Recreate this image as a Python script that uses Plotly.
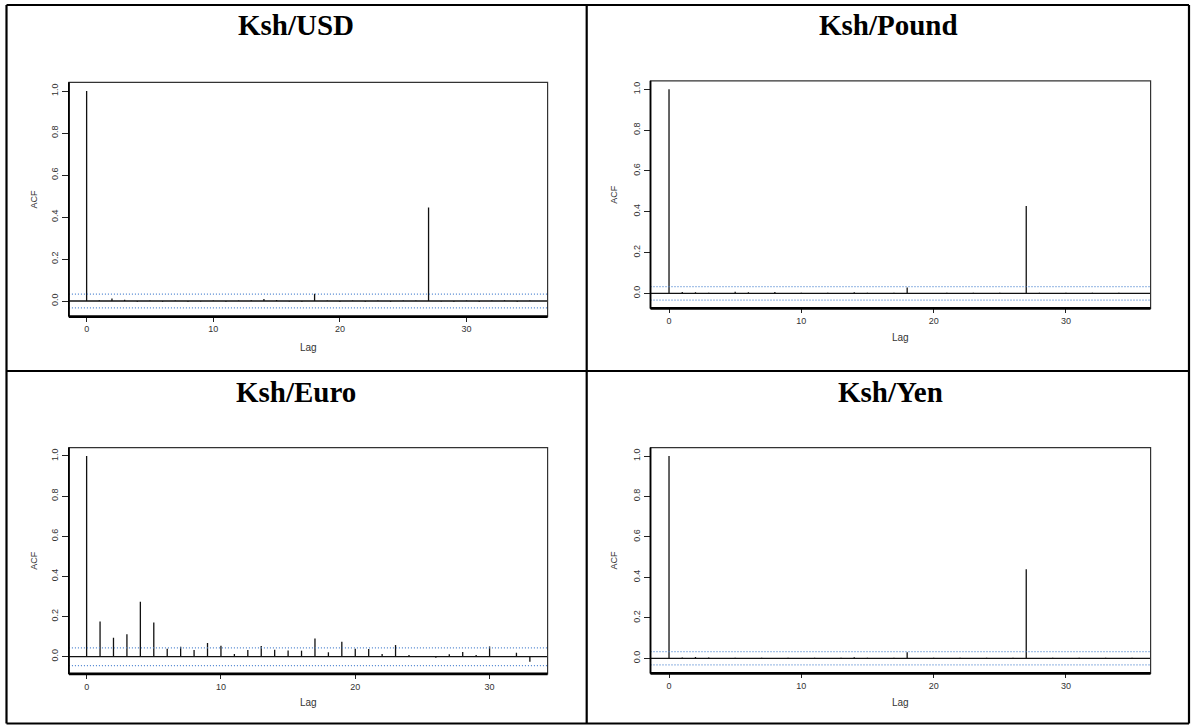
import plotly.graph_objects as go

W, H = 1191, 726

# ---------------- data ----------------
titles = ["Ksh/USD", "Ksh/Pound", "Ksh/Euro", "Ksh/Yen"]

lags_usd = list(range(36))
acf_usd = [1.0, 0.004, 0.012, 0.006, -0.003, 0.002, -0.003, 0.002, -0.003, -0.002,
           0.002, -0.003, 0.002, 0.004, 0.010, 0.005, -0.002, -0.003, 0.035, 0.002,
           -0.003, 0.002, -0.003, 0.002, -0.003, 0.002, 0.002, 0.445, -0.002, -0.003,
           0.002, -0.003, 0.002, 0.004, -0.003, 0.002]

lags_pound = list(range(36))
acf_pound = [1.0, 0.006, 0.005, 0.003, -0.003, 0.007, 0.005, -0.003, 0.006, -0.003,
             0.003, -0.003, 0.003, -0.003, 0.005, 0.003, -0.003, 0.003, 0.029, -0.003,
             -0.004, 0.003, -0.003, 0.003, -0.003, 0.003, -0.003, 0.428, 0.003, -0.003,
             0.003, -0.003, 0.003, -0.003, 0.003, -0.003]

lags_euro = list(range(34))
acf_euro = [1.0, 0.176, 0.094, 0.112, 0.274, 0.170, 0.040, 0.049, 0.034, 0.068,
            0.055, 0.013, 0.034, 0.053, 0.035, 0.031, 0.030, 0.091, 0.022, 0.075,
            0.040, 0.038, 0.013, 0.058, 0.008, 0.003, -0.005, 0.012, 0.023, 0.009,
            0.051, 0.003, 0.020, -0.025]

lags_yen = list(range(36))
acf_yen = [1.0, 0.004, 0.007, 0.004, -0.003, 0.003, -0.003, 0.003, -0.003, 0.003,
           -0.003, 0.003, -0.003, 0.003, 0.005, 0.003, -0.003, 0.003, 0.030, -0.003,
           0.003, -0.003, 0.003, -0.003, 0.003, -0.003, 0.003, 0.440, -0.003, 0.003,
           -0.003, 0.003, -0.003, 0.003, -0.003, 0.003]

ci_bounds = [0.033, 0.033, 0.044, 0.033]
x_ticks = [0, 10, 20, 30]
y_ticks = [0.0, 0.2, 0.4, 0.6, 0.8, 1.0]
y_tick_text = ["0.0", "0.2", "0.4", "0.6", "0.8", "1.0"]

series = [(lags_usd, acf_usd), (lags_pound, acf_pound),
          (lags_euro, acf_euro), (lags_yen, acf_yen)]

# ---------------- layout (pixel geometry) ----------------
panels = [
    dict(l=68.9, r=547.6, y0=301.0, y1=91.0, title_x=296, title_y=25, lag_y=347, acf_x=34),
    dict(l=650.5, r=1150.6, y0=293.3, y1=89.3, title_x=888, title_y=25, lag_y=337, acf_x=614),
    dict(l=68.9, r=547.6, y0=656.7, y1=456.0, title_x=296, title_y=392, lag_y=702, acf_x=34),
    dict(l=650.5, r=1150.6, y0=658.3, y1=456.0, title_x=890, title_y=392, lag_y=702, acf_x=614),
]


def px(x):
    return x / W


def py(y):
    return 1 - y / H


fig = go.Figure()
shapes = []
annotations = []
layout_axes = {}

for i, ((lags, vals), p, ci, title) in enumerate(zip(series, panels, ci_bounds, titles)):
    k = "" if i == 0 else str(i + 1)
    xa, ya = "x" + k, "y" + k
    nmax = max(lags)
    xr = [-0.04 * nmax, nmax * 1.04]
    lo = min(min(vals), -ci)
    hi = max(max(vals), ci)
    span = hi - lo
    yr = [lo - 0.04 * span, hi + 0.04 * span]
    unit = p["y0"] - p["y1"]
    top_px = p["y1"] - (yr[1] - 1.0) * unit
    bot_px = p["y0"] - yr[0] * unit

    layout_axes["xaxis" + k] = dict(
        domain=[px(p["l"]), px(p["r"])], range=xr, anchor=ya,
        showgrid=False, zeroline=False, showline=False,
        tickmode="array", tickvals=x_ticks, ticks="outside", ticklen=4,
        tickwidth=1, tickcolor="#222",
        tickfont=dict(family="Liberation Sans", size=9, color="#333"),
    )
    layout_axes["yaxis" + k] = dict(
        domain=[py(bot_px), py(top_px)], range=yr, anchor=xa,
        showgrid=False, zeroline=False, showline=False,
        tickmode="array", tickvals=y_ticks, ticktext=y_tick_text,
        ticks="outside", ticklen=6, tickwidth=1, tickcolor="#222", tickangle=-90,
        tickfont=dict(family="Liberation Sans", size=9, color="#333"),
    )

    # ACF spikes
    xs, ys = [], []
    for lag, v in zip(lags, vals):
        xs += [lag, lag, None]
        ys += [0, v, None]
    fig.add_trace(go.Scatter(x=xs, y=ys, mode="lines", xaxis=xa, yaxis=ya,
                             line=dict(color="#111", width=1.3),
                             showlegend=False, hoverinfo="skip"))
    # zero line
    fig.add_trace(go.Scatter(x=xr, y=[0, 0], mode="lines", xaxis=xa, yaxis=ya,
                             line=dict(color="#111", width=1.3),
                             showlegend=False, hoverinfo="skip"))
    # confidence bounds
    for c in (ci, -ci):
        fig.add_trace(go.Scatter(x=xr, y=[c, c], mode="lines", xaxis=xa, yaxis=ya,
                                 line=dict(color="#4d84d0", width=1.3, dash="1px,2px"),
                                 showlegend=False, hoverinfo="skip"))

    # frame
    shapes.append(dict(type="rect", xref="paper", yref="paper",
                       x0=px(p["l"]), x1=px(p["r"]), y0=py(bot_px), y1=py(top_px),
                       line=dict(color="#333", width=1.2)))
    shapes.append(dict(type="line", xref="paper", yref="paper",
                       x0=px(p["l"]), x1=px(p["r"]), y0=py(bot_px), y1=py(bot_px),
                       line=dict(color="#000", width=2.8)))
    shapes.append(dict(type="line", xref="paper", yref="paper",
                       x0=px(p["l"]), x1=px(p["l"]), y0=py(bot_px), y1=py(top_px),
                       line=dict(color="#000", width=1.8)))

    annotations.append(dict(text="<b>" + title + "</b>", xref="paper", yref="paper",
                            x=px(p["title_x"]), y=py(p["title_y"]), showarrow=False,
                            xanchor="center", yanchor="middle",
                            font=dict(family="Liberation Serif", size=29, color="#000")))
    annotations.append(dict(text="Lag", xref="paper", yref="paper",
                            x=px((p["l"] + p["r"]) / 2), y=py(p["lag_y"]), showarrow=False,
                            xanchor="center", yanchor="middle",
                            font=dict(family="Liberation Sans", size=10, color="#333")))
    annotations.append(dict(text="ACF", xref="paper", yref="paper", textangle=-90,
                            x=px(p["acf_x"]), y=py((top_px + bot_px) / 2), showarrow=False,
                            xanchor="center", yanchor="middle",
                            font=dict(family="Liberation Sans", size=9, color="#333")))

# table borders
bl, bt, br, bb = 6.5, 5.0, 1189.0, 723.5
vx, hy = 586.7, 371.0
for (x0, y0, x1, y1) in [(bl, bt, br, bt), (bl, bb, br, bb), (bl, bt, bl, bb), (br, bt, br, bb),
                         (vx, bt, vx, bb), (bl, hy, br, hy)]:
    shapes.append(dict(type="line", xref="paper", yref="paper",
                       x0=px(x0), x1=px(x1), y0=py(y0), y1=py(y1),
                       line=dict(color="#000", width=2.2)))

fig.update_layout(
    width=W, height=H, margin=dict(l=0, r=0, t=0, b=0),
    paper_bgcolor="white", plot_bgcolor="white",
    shapes=shapes, annotations=annotations, showlegend=False,
    **layout_axes,
)

fig.write_html("out.html")
